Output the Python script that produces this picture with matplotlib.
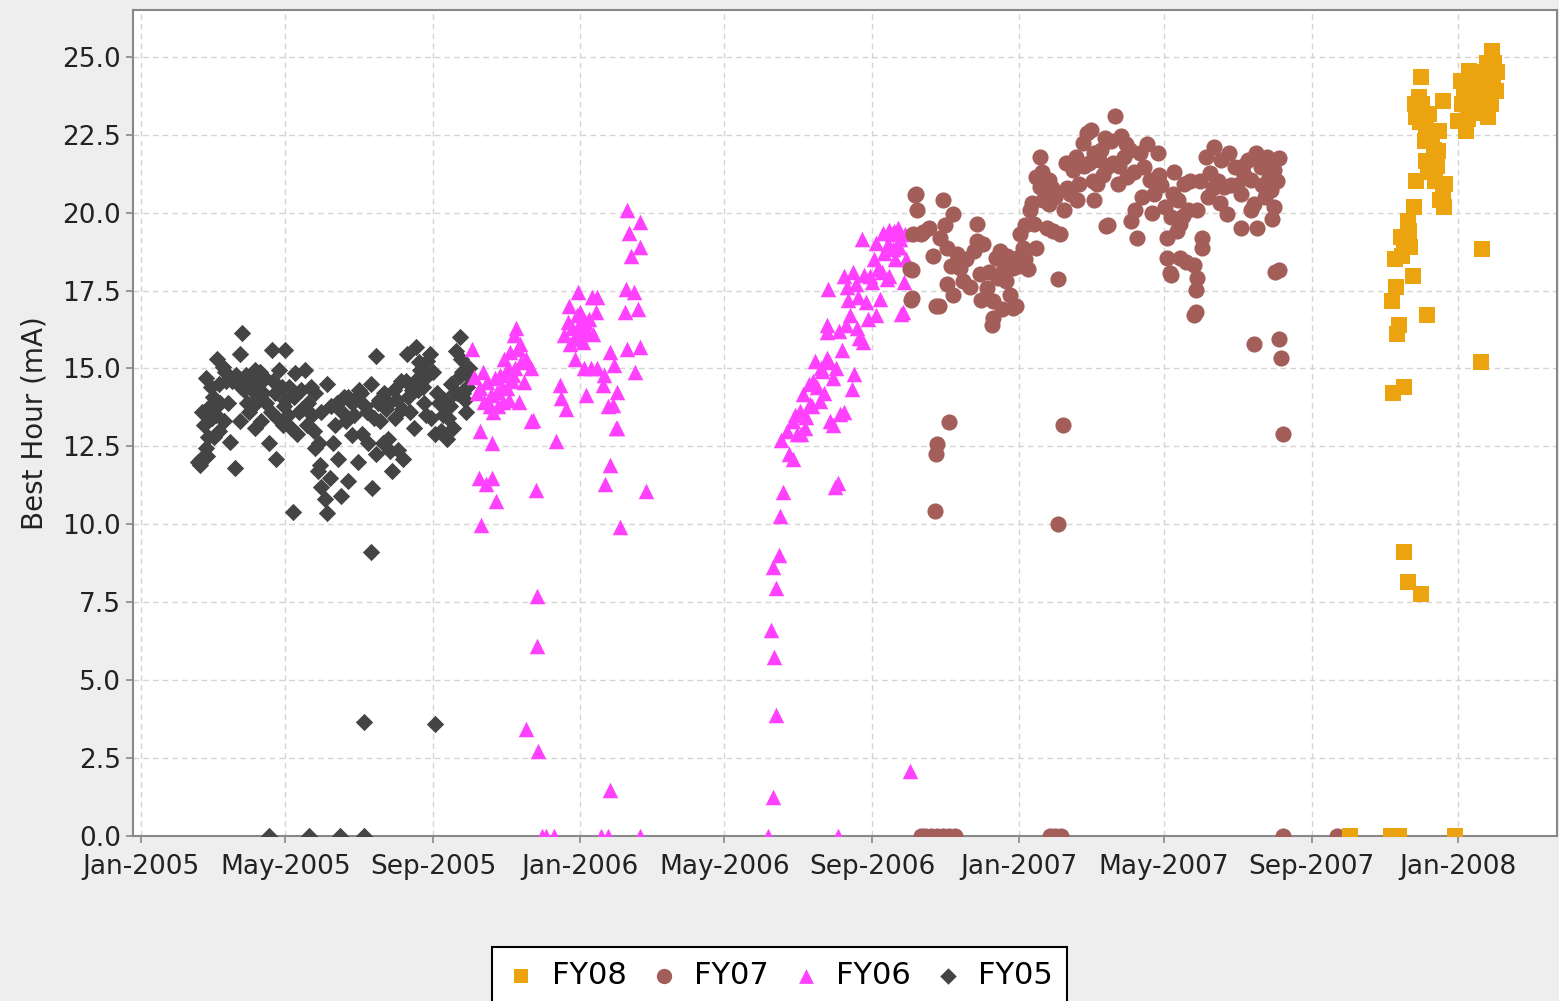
import pandas as pd
import matplotlib
matplotlib.use("Agg")
import matplotlib.pyplot as plt
import matplotlib.dates as mdates

# x values are days counted from 2005-01-01, y values are Best Hour (mA)
fy05_day = [49, 50, 54, 54, 57, 60, 63, 65, 65, 68, 74, 78, 82, 82, 84, 90, 90, 95, 95, 101,
            106, 109, 112, 115, 117, 120, 120, 125, 126, 128, 131, 136, 139, 145, 145, 147, 150,
            153, 155, 155, 158, 161, 164, 166, 169, 172, 175, 177, 180, 186, 191, 192, 195, 195,
            199, 202, 205, 207, 209, 213, 216, 218, 221, 224, 227, 229, 232, 235, 238, 240, 246,
            251, 254, 257, 262, 265, 265, 268, 270, 272, 273, 191, 185, 244, 106, 140, 165, 185,
            52, 56, 58, 62, 70, 72, 76, 86, 88, 92, 98, 100, 103, 108, 110, 113, 118, 123, 133,
            142, 150, 163, 167, 172, 175, 183, 188, 197, 204, 211, 222, 230, 236, 243, 248, 259,
            263, 267,
            47, 51, 55, 59, 61, 66, 69, 71, 79, 83, 87, 93, 97, 99, 104, 111, 119, 122, 127, 130,
            134, 138, 141, 144, 148, 149, 157, 160, 170, 178, 181, 184, 189, 194, 198, 201, 206,
            210, 214, 217, 220, 225, 228, 231, 234, 237, 241, 244, 249, 252, 255, 258, 260, 266,
            269, 271]
fy05_val = [11.9, 12.1, 12.45, 14.7, 13.8, 14.1, 15.3, 14.5, 13.0, 15.05, 12.65, 11.8, 15.47, 13.3,
            16.15, 13.6, 14.7, 13.1, 14.95, 14.2, 12.6, 15.6, 12.1, 14.95, 14.4, 15.6, 14.0, 13.1,
            10.4, 14.85, 13.6, 14.95, 13.9, 14.2, 12.45, 11.7, 11.2, 10.8, 10.35, 14.5, 13.8, 13.2,
            12.1, 10.9, 14.1, 11.4, 12.85, 13.5, 12.0, 13.8, 14.5, 11.15, 15.4, 12.25, 13.3, 14.2,
            12.75, 12.35, 11.7, 14.0, 14.6, 12.1, 15.45, 13.6, 13.1, 15.7, 14.95, 13.9, 15.25, 15.45,
            14.2, 13.5, 12.75, 13.8, 15.55, 16.0, 14.75, 14.2, 13.6, 14.8, 15.0, 9.1, 3.66, 3.6,
            0, 0, 0, 0,
            13.2, 12.8, 14.4, 13.5, 14.9, 13.9, 14.6, 14.3, 13.9, 14.3, 14.5, 13.3, 14.7, 13.6,
            14.6, 13.4, 13.2, 14.4, 14.3, 13.5, 13.6, 13.9, 13.6, 14.1, 13.9, 14.2, 13.6, 13.9,
            13.7, 13.4, 14.1, 14.3, 14.7, 14.9, 13.9, 13.1, 14.2, 14.9,
            12.0, 13.6, 12.2, 13.4, 12.8, 13.9, 13.3, 14.6, 14.8, 14.4, 14.8, 13.8, 14.1, 14.9,
            13.9, 14.2, 13.8, 13.5, 14.1, 12.9, 13.7, 13.2, 14.4, 13.0, 12.6, 11.9, 11.5, 12.6,
            13.3, 14.0, 14.3, 12.9, 12.6, 13.4, 14.0, 12.6, 13.9, 14.3, 12.4, 13.7, 14.6, 14.3,
            14.6, 15.2, 14.4, 13.5, 13.4, 12.9, 13.0, 14.0, 13.4, 14.5, 14.2, 15.3, 14.0, 14.4]

fy06_day = [275, 277, 282, 285, 288, 291, 293, 296, 298, 301, 304, 307, 310, 311, 313, 316, 318,
            320, 324, 324, 314, 282, 292, 281, 287, 292, 295, 328, 345, 348, 349, 353, 352, 356,
            360, 363, 364, 367, 371, 375, 378, 379, 361, 368, 374, 379, 370, 384, 385, 390, 393,
            396, 392, 395, 390, 386, 402, 403, 404, 410, 413, 415, 411, 407, 406, 404, 415, 415,
            420, 329, 329, 320, 330, 333, 337, 343, 390, 382, 388, 415, 398, 283, 326, 388, 396,
            534, 531, 530, 525, 528, 524, 526, 528, 525, 521, 579, 579, 577, 639, 633,
            539, 542, 532, 537, 542, 548, 550, 553, 556, 559, 560, 564, 566, 570, 573, 575, 578,
            581, 591, 593, 570, 571, 570, 584, 586, 589, 592, 595, 597, 600, 603, 606, 608, 611,
            614, 620, 622, 599, 611, 617, 622, 625, 627, 631, 634, 636, 632, 575, 584, 630,
            297, 303, 306, 309, 358, 362, 366, 369, 545, 552, 562, 568, 587, 596, 613, 618, 626, 629,
            279, 284, 290, 294, 300, 302, 305, 308, 312, 315, 355, 357, 365, 372, 376, 544, 549,
            555, 558, 565, 572, 580, 583, 588, 594, 601, 604, 609, 616, 621, 624, 628, 635]
fy06_val = [15.64, 14.73, 14.36, 13.94, 14.57, 14.15, 13.6, 14.26, 14.8, 13.94, 14.36, 15.53, 16.06,
            15.0, 15.64, 15.2, 14.57, 15.3, 15.0, 13.3, 13.94, 12.98, 12.6, 11.5, 11.28, 11.5, 10.74,
            11.1, 12.66, 14.47, 14.04, 13.7, 16.06, 17.0, 15.96, 17.45, 16.4, 15.85, 16.2, 17.3,
            16.8, 17.3, 15.3, 15.0, 15.0, 15.0, 14.15, 14.47, 14.8, 15.53, 15.1, 14.26, 13.83, 13.1,
            11.9, 11.28, 16.8, 17.55, 15.64, 17.45, 16.9, 15.7, 14.9, 18.6, 19.36, 20.1, 19.7, 18.9,
            11.06, 7.7, 6.1, 3.43, 2.73, 0, 0, 0, 1.48, 0, 0, 0, 9.92, 9.98, 13.35, 13.8, 13.1,
            11.05, 10.27, 9.0, 8.63, 7.97, 6.6, 5.74, 3.88, 1.25, 0, 0, 11.34, 11.2, 2.09, 16.8,
            12.27, 12.1, 12.7, 13.0, 13.33, 13.65, 14.17, 13.43, 13.86, 14.6, 15.23, 13.96, 14.91,
            15.34, 13.33, 14.7, 15.02, 13.54, 14.33, 14.81, 16.39, 17.55, 16.18, 17.97, 16.39,
            16.71, 18.08, 16.29, 15.97, 15.86, 17.13, 17.97, 17.76, 16.71, 17.24, 17.87, 17.97,
            19.14, 19.03, 19.35, 19.45, 18.82, 18.5, 19.14, 17.76, 18.5, 16.76, 13.2, 13.6, 18.9,
            13.8, 14.9, 14.0, 14.8, 16.3, 16.7, 16.1, 16.5, 12.9, 13.1, 14.4, 14.2, 17.6, 17.3,
            18.2, 18.7, 19.4, 19.5,
            14.2, 14.9, 13.8, 14.7, 14.4, 15.3, 15.0, 14.6, 16.3, 15.8, 16.5, 15.8, 16.8, 16.6,
            16.1, 13.5, 12.9, 14.5, 13.8, 15.0, 15.2, 16.2, 15.6, 17.2, 17.7, 18.0, 16.6, 18.5,
            18.1, 19.0, 19.3, 18.9, 19.3]

fy07_day = [643, 645, 642, 650, 639, 640, 661, 667, 675, 664, 670, 678, 681, 683, 670, 675, 695,
            695, 692, 700, 697, 703, 708, 708, 714, 717, 719, 722, 725, 711, 725, 728, 731, 733,
            739, 742, 744, 747, 744, 747, 750, 755, 755, 758, 764, 762, 767, 769, 775, 780, 783,
            786, 778,
            810, 790, 792, 795, 792, 803, 815, 817, 820, 812, 802, 826, 823, 828, 834, 839, 845,
            842, 851, 853, 856, 862, 864, 867, 870, 853, 856, 864, 878, 882, 882, 875, 878, 877,
            875, 887, 892, 889, 898, 900, 903, 909, 914, 914, 920, 923, 925, 928, 931, 936, 939,
            942, 942, 943, 923,
            946, 946, 948, 949, 925, 949, 994, 660, 661, 662, 672, 762, 766, 648, 652, 657, 662,
            667, 672, 677, 756, 760, 765, 641, 641, 644, 663, 707, 727, 753, 804, 855, 877, 946,
            944,
            788, 798, 800, 806, 808, 822, 830, 836, 848, 859, 872, 895, 906, 917, 934, 760, 772,
            737, 735,
            648, 655, 658, 668, 673, 686, 689, 698, 705, 712, 716, 720, 730, 735, 741, 749, 757,
            770, 777, 784, 791, 796, 801, 813, 819, 825, 832, 840, 846, 858, 861, 866, 869, 880,
            885, 891, 897, 904, 911, 916, 927, 932, 938, 940]
fy07_val = [20.56, 20.07, 19.31, 19.37, 18.18, 17.21, 16.99, 20.4, 19.96, 19.2, 18.88, 18.67, 18.23,
            17.8, 17.7, 17.37, 19.64, 19.1, 18.77, 18.99, 18.02, 17.59, 16.61, 17.15, 18.77, 18.23,
            17.8, 17.37, 16.94, 18.56, 18.23, 18.56, 19.31, 18.88, 20.07, 19.64, 18.88, 21.8, 21.15,
            20.83, 20.4, 21.04, 20.29, 19.42, 19.31, 17.86, 20.07, 21.58, 21.37, 20.93, 22.23,
            22.55, 20.4,
            23.1, 22.66, 21.9, 20.93, 20.39, 21.47, 22.45, 21.8, 21.15, 20.93, 19.58, 20.07, 19.74,
            19.2, 21.47, 21.04, 21.9, 20.6, 20.17, 19.2, 19.85, 20.39, 19.63, 20.93, 20.07, 18.55,
            18.0, 18.55, 20.07, 19.2, 18.87, 18.33, 17.9, 17.52, 16.7, 20.5, 22.12, 21.26, 21.69,
            20.82, 19.96, 21.47, 20.6, 19.52, 21.69, 21.04, 20.28, 19.52, 21.47, 21.8, 20.71, 21.37,
            20.17, 18.1, 20.07,
            18.16, 15.95, 15.34, 12.9, 15.8, 0, 0, 10.43, 12.26, 12.58, 13.29, 10.0, 13.19, 0, 0,
            0, 0, 0, 0, 0, 0, 0, 0, 17.27, 18.16, 20.6, 17.0, 16.4, 17.0, 19.5, 19.6, 18.07, 16.8,
            21.76, 21.0,
            21.6, 22.0, 21.2, 22.3, 21.6, 22.0, 21.9, 22.2, 20.9, 21.3, 21.0, 21.0, 20.9, 21.2,
            20.5, 20.5, 20.6, 18.2, 18.5,
            19.3, 19.5, 18.6, 19.6, 18.3, 18.5, 17.6, 17.2, 18.1, 17.9, 16.9, 18.6, 18.3, 19.6,
            20.3, 21.3, 20.8, 20.8, 21.8, 21.5, 21.0, 21.7, 22.4, 21.5, 22.2, 21.3, 20.5, 20.0,
            21.2, 20.6, 19.4, 19.9, 18.4, 21.0, 21.8, 20.8, 20.3, 21.9, 20.9, 21.5, 21.9, 20.9,
            21.1, 19.8]

fy08_day = [1064, 1062, 1060, 1065, 1071, 1068, 1073, 1082, 1079, 1078, 1068, 1060, 1076, 1084,
            1082, 1083, 1058, 1053, 1054, 1047, 1055, 1042, 1057, 1043, 1040, 1069, 1046, 1044,
            1115, 1114, 1097, 1104, 1098, 1095, 1101, 1107, 1109, 1115, 1118, 1120, 1123, 1123,
            1126, 1122, 1112, 1050, 1053, 1064, 1041, 1050, 1005, 1039, 1046, 1092,
            1061, 1066, 1075, 1050, 1048, 1100, 1106, 1117, 1125, 1119, 1111,
            1059, 1063, 1067, 1070, 1077, 1080, 1103, 1108, 1113, 1121, 1124, 1127, 1116]
fy08_val = [24.34, 23.7, 23.06, 23.48, 23.16, 22.74, 22.52, 23.59, 22.63, 21.99, 21.67, 21.03, 21.03,
            20.92, 20.6, 20.17, 20.17, 19.74, 19.42, 19.21, 18.89, 18.51, 17.98, 17.6, 17.18, 16.7,
            16.38, 16.11, 18.84, 15.2, 24.23, 24.55, 23.48, 22.95, 22.63, 24.02, 23.27, 24.34,
            23.7, 23.06, 24.55, 25.19, 23.91, 23.48, 23.7, 9.11, 8.15, 7.77, 14.2, 14.4, 0, 0, 0, 0,
            23.4, 23.0, 22.0, 19.0, 18.6, 23.9, 23.5, 24.1, 24.8, 24.8, 24.4,
            23.5, 22.9, 22.3, 21.3, 21.5, 20.4, 23.0, 24.5, 23.2, 24.3, 24.0, 24.5, 23.6]


def to_dates(days):
    return pd.Timestamp("2005-01-01") + pd.to_timedelta(days, unit="D")


plt.rcParams["font.family"] = ["DejaVu Sans"]

fig = plt.figure(figsize=(15.59, 10.01), dpi=100, facecolor="#eeeeee")
ax = fig.add_axes([0.0853, 0.1648, 0.9134, 0.8252])
ax.set_facecolor("white")

# drawn back to front, FY05 first (JFreeChart reverse order)
ax.scatter(to_dates(fy05_day), fy05_val, marker="D", s=78, color="#444444", linewidths=0, label="FY05", zorder=3)
ax.scatter(to_dates(fy06_day), fy06_val, marker="^", s=125, color="#ff40ff", linewidths=0, label="FY06", zorder=4)
ax.scatter(to_dates(fy07_day), fy07_val, marker="o", s=135, color="#a45e5a", linewidths=0, label="FY07", zorder=5)
ax.scatter(to_dates(fy08_day), fy08_val, marker="s", s=120, color="#eba40f", linewidths=0, label="FY08", zorder=6)

ax.set_xlim(pd.Timestamp("2004-12-25 08:00"), pd.Timestamp("2008-03-23"))
ax.set_ylim(0, 26.5)
ax.set_yticks([0, 2.5, 5, 7.5, 10, 12.5, 15, 17.5, 20, 22.5, 25])
ax.yaxis.set_major_formatter(plt.FormatStrFormatter("%.1f"))
ax.xaxis.set_major_locator(mdates.MonthLocator(bymonth=[1, 5, 9]))
ax.xaxis.set_major_formatter(mdates.DateFormatter("%b-%Y"))

ax.grid(True, color="#d4d4d4", linestyle=(0, (4, 3)), linewidth=1)
ax.set_axisbelow(True)
for side in ["left", "bottom", "top", "right"]:
    ax.spines[side].set_color("#888888")
    ax.spines[side].set_linewidth(1.5)
ax.tick_params(axis="both", direction="out", length=5, width=1.2, color="#888888",
               labelsize=19, labelcolor="#222222")
ax.tick_params(axis="x", pad=8)
ax.set_ylabel("Best Hour (mA)", fontsize=20, color="#222222", labelpad=10)

# legend in reverse order like the original
handles, labels = ax.get_legend_handles_labels()
leg = fig.legend(handles[::-1], labels[::-1], loc="upper center", bbox_to_anchor=(0.5, 0.054),
                 borderaxespad=0, ncol=4, fontsize=22, frameon=True, fancybox=False,
                 edgecolor="black", facecolor="white", framealpha=1.0, handletextpad=0.5,
                 columnspacing=0.7, borderpad=0.45, markerscale=0.95, handlelength=1.0)
leg.get_frame().set_linewidth(1.5)

plt.savefig("out.png", dpi=100, facecolor=fig.get_facecolor())
